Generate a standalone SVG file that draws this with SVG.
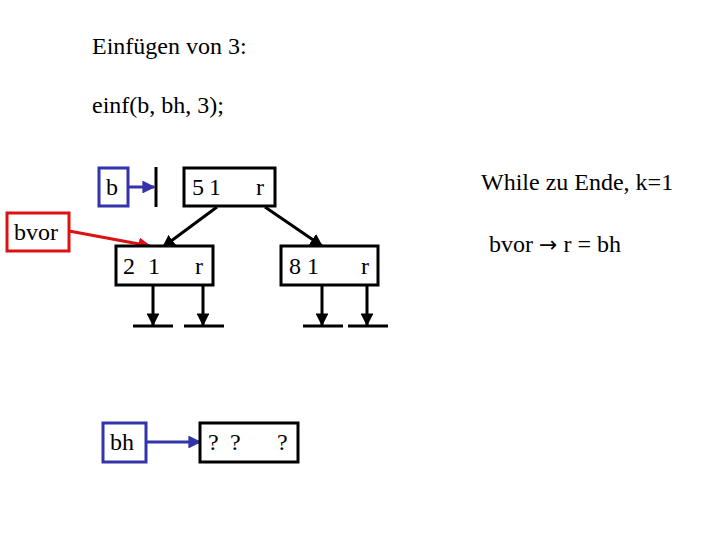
<svg xmlns="http://www.w3.org/2000/svg" width="720" height="540" viewBox="0 0 720 540">
<defs>
<style>
text{font-family:"Liberation Serif","Times New Roman","DejaVu Serif",serif;font-size:24px;fill:#000}
.box{fill:#fff;stroke:#000;stroke-width:3}
.blue{fill:#fff;stroke:#3333aa;stroke-width:3}
.red{fill:#fff;stroke:#dd1111;stroke-width:3}
.k{stroke:#000;stroke-width:3;fill:none}
.bl{stroke:#3333aa;stroke-width:3;fill:none}
.rd{stroke:#dd1111;stroke-width:3;fill:none}
</style>
<marker id="ak" viewBox="0 0 10 10" refX="9" refY="5" markerWidth="4.3" markerHeight="4.3" orient="auto" markerUnits="strokeWidth"><path d="M0,0L10,5L0,10z" fill="#000"/></marker>
<marker id="ab" viewBox="0 0 10 10" refX="9" refY="5" markerWidth="4.3" markerHeight="4.3" orient="auto" markerUnits="strokeWidth"><path d="M0,0L10,5L0,10z" fill="#3333aa"/></marker>
<marker id="ar" viewBox="0 0 10 10" refX="9" refY="5" markerWidth="4.3" markerHeight="4.3" orient="auto" markerUnits="strokeWidth"><path d="M0,0L10,5L0,10z" fill="#dd1111"/></marker>
</defs>
<rect width="720" height="540" fill="#fff"/>
<text x="92" y="54">Einfügen von 3:</text>
<text x="92" y="113">einf(b, bh, 3);</text>
<text x="481" y="190">While zu Ende, k=1</text>
<text x="489" y="252">bvor <tspan font-family="DejaVu Sans, sans-serif" font-size="22">→</tspan> r = bh</text>
<g id="connectors">
<path class="bl" d="M128,187H154" marker-end="url(#ab)"/>
<path class="k" d="M156,167V207"/>
<path class="rd" d="M69,231L150,246" marker-end="url(#ar)"/>
<path class="k" d="M217,207L163,247" marker-end="url(#ak)"/>
<path class="k" d="M265,207L322,246" marker-end="url(#ak)"/>
<path class="k" d="M153,285V325" marker-end="url(#ak)"/>
<path class="k" d="M203,285V325" marker-end="url(#ak)"/>
<path class="k" d="M322,285V325" marker-end="url(#ak)"/>
<path class="k" d="M367,285V325" marker-end="url(#ak)"/>
<path class="k" d="M133,326H173M184,326H224M303,326H343M348,326H388"/>
<path class="bl" d="M146,442H200" marker-end="url(#ab)"/>
</g>
<g id="b"><rect class="blue" x="99" y="168" width="29" height="38"/><text x="106" y="195">b</text></g>
<g id="n51"><rect class="box" x="184" y="168" width="91" height="38"/><text x="192" y="195">5</text><text x="209" y="195">1</text><text x="256" y="195">r</text></g>
<g id="bvor"><rect class="red" x="7" y="213" width="62" height="38"/><text x="14" y="240">bvor</text></g>
<g id="n21"><rect class="box" x="116" y="246" width="97" height="39"/><text x="123" y="274">2</text><text x="148" y="274">1</text><text x="195" y="274">r</text></g>
<g id="n81"><rect class="box" x="281" y="246" width="97" height="39"/><text x="289" y="274">8</text><text x="307" y="274">1</text><text x="361" y="274">r</text></g>
<g id="bh"><rect class="blue" x="103" y="423" width="43" height="39"/><text x="110" y="450">bh</text></g>
<g id="nq"><rect class="box" x="200" y="423" width="98" height="39"/><text x="208" y="450">?</text><text x="230" y="450">?</text><text x="277" y="450">?</text></g>
</svg>
